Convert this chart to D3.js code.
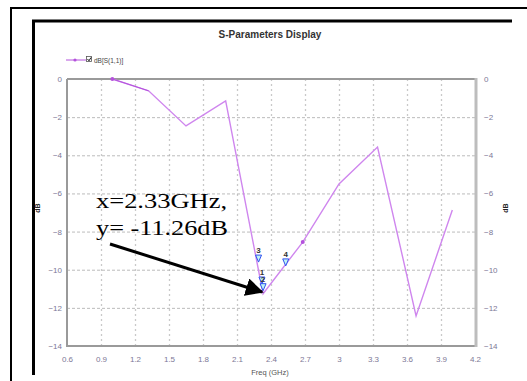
<!DOCTYPE html>
<html>
<head>
<meta charset="utf-8">
<script src="https://cdn.jsdelivr.net/npm/d3@7"></script>
<style>
  body { margin: 0; background: #fff; }
  svg { display: block; }
</style>
</head>
<body>
<svg id="chart"></svg>
<script>
// data
var freq = [1.0, 1.32, 1.65, 2.0, 2.33, 2.68, 3.0, 3.34, 3.68, 4.0];
var s11  = [0, -0.62, -2.46, -1.15, -11.26, -8.55, -5.5, -3.57, -12.42, -6.87];
var dotFreq = [1.0, 2.68];
var xTicks = [0.6, 0.9, 1.2, 1.5, 1.8, 2.1, 2.4, 2.7, 3, 3.3, 3.6, 3.9, 4.2];
var yTicks = [0, -2, -4, -6, -8, -10, -12, -14];
var markerNames = ["3", "1", "2", "4"];
var markerFreq  = [2.29, 2.32, 2.33, 2.53];
var markerDb    = [-9.6, -10.75, -11.1, -9.8];

function draw() {
    var width = 527, height = 381;
    var svg = d3.select('#chart').attr("width", width).attr("height", height);

    // frames round the picture
    svg.append("path").attr("d", "M11,381 V8 H527").attr("fill", "none")
        .attr("stroke", "#000").attr("stroke-width", 2);
    svg.append("path").attr("d", "M33.5,375 V21 H512").attr("fill", "none")
        .attr("stroke", "#000").attr("stroke-width", 3);

    var pLeft = 67, pRight = 475, pTop = 79, pBottom = 346;

    var x = d3.scaleLinear().domain([0.6, 4.2]).range([pLeft, pRight]);
    var y = d3.scaleLinear().domain([-14, 0]).range([pBottom, pTop]);

    var tickColor = "#7c7896";
    var font = "Liberation Sans, Arial, sans-serif";

    // GRID
    svg.append("g")
        .attr("transform", "translate(0," + pBottom + ")")
        .call(d3.axisBottom(x).tickValues(xTicks.slice(1, -1)).tickSize(-(pBottom - pTop)).tickFormat(""))
        .call(function(g) {
            g.select(".domain").remove();
            g.selectAll("line").attr("stroke", "#c9c9c9").attr("stroke-width", 1.3)
                .attr("stroke-dasharray", "2,3");
        });
    svg.append("g")
        .attr("transform", "translate(" + pLeft + ",0)")
        .call(d3.axisLeft(y).tickValues(yTicks.slice(1, -1)).tickSize(-(pRight - pLeft)).tickFormat(""))
        .call(function(g) {
            g.select(".domain").remove();
            g.selectAll("line").attr("stroke", "#aaaaaa").attr("stroke-width", 0.8)
                .attr("stroke-dasharray", "3,2");
        });

    // plot border
    svg.append("path").attr("d", "M" + pLeft + "," + pTop + " H" + pRight + " M" + pLeft + "," + pTop + " V" + pBottom + " H" + pRight)
        .attr("fill", "none").attr("stroke", "#9a9a9a").attr("stroke-width", 2);
    svg.append("line").attr("x1", pRight + 1).attr("x2", pRight + 1).attr("y1", pTop - 1).attr("y2", pBottom + 1)
        .attr("stroke", "#bdbdbd").attr("stroke-width", 3);

    // AXES
    function styleAxis(g) {
        g.select(".domain").remove();
        g.selectAll("text").attr("fill", tickColor).attr("font-family", font).attr("font-size", 8);
    }
    svg.append("g")
        .attr("transform", "translate(" + pLeft + ",0)")
        .call(d3.axisLeft(y).tickValues(yTicks).tickSize(0).tickPadding(5))
        .call(styleAxis);
    svg.append("g")
        .attr("transform", "translate(" + (pRight + 2) + ",0)")
        .call(d3.axisRight(y).tickValues(yTicks).tickSize(0).tickPadding(7))
        .call(styleAxis);
    svg.append("g")
        .attr("transform", "translate(0," + pBottom + ")")
        .call(d3.axisBottom(x).tickValues(xTicks).tickSize(0).tickPadding(10).tickFormat(d3.format("")))
        .call(styleAxis);

    // axis titles
    svg.append("text").attr("x", 270).attr("y", 375).attr("text-anchor", "middle")
        .attr("font-family", font).attr("font-size", 7.5).attr("fill", "#555")
        .text("Freq (GHz)");
    [38, 506].forEach(function(px) {
        svg.append("text").attr("transform", "translate(" + px + ",208) rotate(-90)")
            .attr("text-anchor", "middle").attr("dy", "0.35em")
            .attr("font-family", font).attr("font-size", 7).attr("font-weight", "bold")
            .attr("fill", "#222").text("dB");
    });

    // title
    svg.append("text").attr("x", 270).attr("y", 38).attr("text-anchor", "middle")
        .attr("font-family", font).attr("font-size", 10).attr("font-weight", "bold")
        .attr("fill", "#333").text("S-Parameters Display");

    // legend
    var lineColor = "#cf86ee";
    svg.append("line").attr("x1", 66).attr("x2", 86).attr("y1", 60).attr("y2", 60)
        .attr("stroke", "#b452dc").attr("stroke-width", 1);
    svg.append("circle").attr("cx", 75).attr("cy", 60).attr("r", 1.6).attr("fill", "#b452dc");
    svg.append("rect").attr("x", 86.5).attr("y", 56.5).attr("width", 5).attr("height", 5)
        .attr("fill", "#fff").attr("stroke", "#555").attr("stroke-width", 0.8);
    svg.append("path").attr("d", "M87.5,59 L89,60.8 L91,57.5").attr("fill", "none").attr("stroke", "#000").attr("stroke-width", 0.9);
    svg.append("text").attr("x", 94).attr("y", 62.5)
        .attr("font-family", font).attr("font-size", 6.5).attr("fill", "#444")
        .text("dB[S(1,1)]");

    // DATA LINE
    var pts = freq.map(function(f, i) { return [f, s11[i]]; });
    var line = d3.line().x(function(d) { return x(d[0]); }).y(function(d) { return y(d[1]); });
    svg.append("path").datum(pts).attr("d", line)
        .attr("fill", "none").attr("stroke", lineColor).attr("stroke-width", 1.4);
    svg.append("path").datum(pts.slice(0, 2)).attr("d", line)
        .attr("fill", "none").attr("stroke", "#b452dc").attr("stroke-width", 1);
    svg.selectAll(".dot").data(pts.filter(function(d) { return dotFreq.indexOf(d[0]) >= 0; }))
        .enter().append("circle")
        .attr("cx", function(d) { return x(d[0]); })
        .attr("cy", function(d) { return y(d[1]); })
        .attr("r", 2).attr("fill", "#b452dc");

    // markers (triangles pointing down with a number above)
    markerNames.forEach(function(name, i) {
        var mx = x(markerFreq[i]), my = y(markerDb[i]);
        svg.append("path").attr("d", "M" + (mx - 3) + "," + (my - 7) + " H" + (mx + 3) + " L" + mx + "," + my + " Z")
            .attr("fill", "#bff3f3").attr("stroke", "#3050f0").attr("stroke-width", 1);
        svg.append("text").attr("x", mx).attr("y", my - 9).attr("text-anchor", "middle")
            .attr("font-family", font).attr("font-size", 8).attr("font-weight", "bold")
            .attr("fill", "#333").text(name);
    });

    // annotation
    svg.append("text").attr("x", 96).attr("y", 208)
        .attr("font-family", "Liberation Serif, Times New Roman, serif").attr("font-size", 21)
        .attr("textLength", 131).attr("lengthAdjust", "spacingAndGlyphs")
        .attr("fill", "#000").text("x=2.33GHz,");
    svg.append("text").attr("x", 96).attr("y", 235)
        .attr("font-family", "Liberation Serif, Times New Roman, serif").attr("font-size", 21)
        .attr("textLength", 132).attr("lengthAdjust", "spacingAndGlyphs")
        .attr("fill", "#000").text("y= -11.26dB");

    svg.append("defs").append("marker")
        .attr("id", "arrow").attr("viewBox", "0 0 10 10").attr("refX", 9).attr("refY", 5)
        .attr("markerWidth", 6).attr("markerHeight", 6).attr("markerUnits", "strokeWidth")
        .attr("orient", "auto")
        .append("path").attr("d", "M0,0 L10,5 L0,10 Z").attr("fill", "#000");
    svg.append("line").attr("x1", 110).attr("y1", 244).attr("x2", 262).attr("y2", 292)
        .attr("stroke", "#000").attr("stroke-width", 3).attr("marker-end", "url(#arrow)");
}
draw();
</script>
</body>
</html>
